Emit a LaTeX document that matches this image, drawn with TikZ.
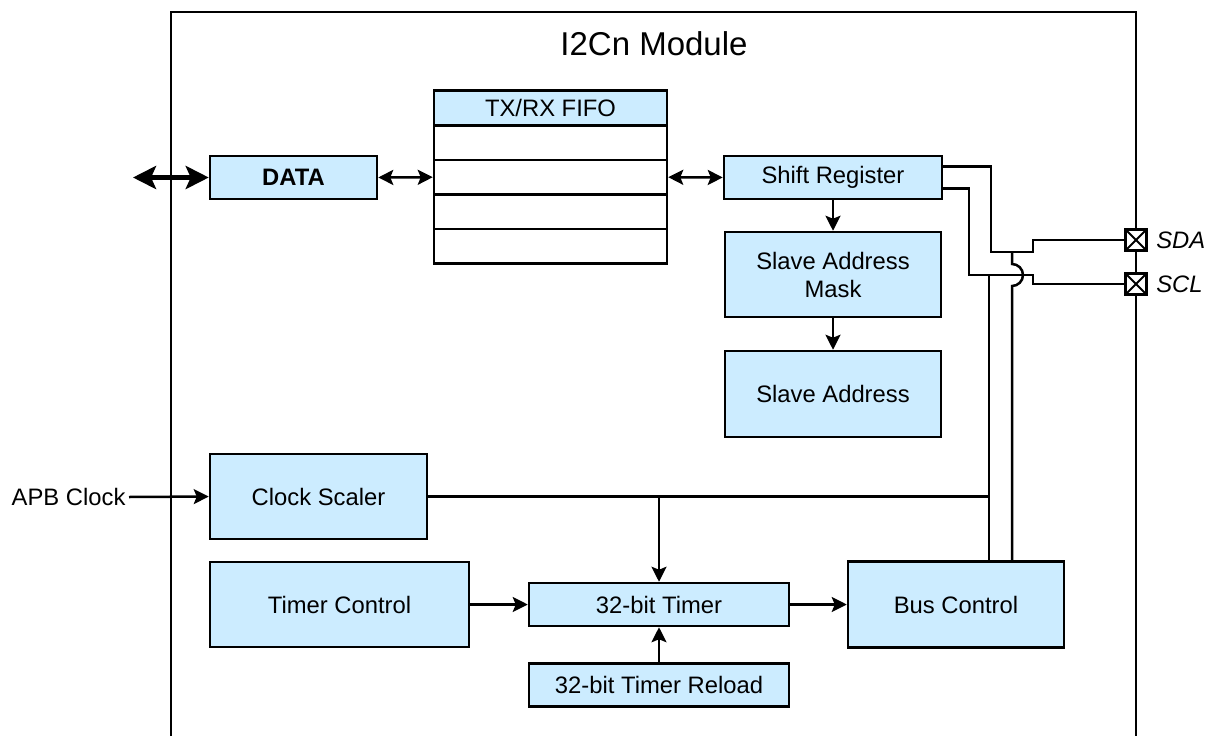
\documentclass[tikz,border=0pt]{standalone}
\usepackage{fontspec}
\setmainfont{Liberation Sans}
\usepackage{xcolor}
\usetikzlibrary{arrows.meta}
\definecolor{blockblue}{RGB}{204,236,255}
\newcommand{\blkfont}{\fontsize{23.8}{28}\selectfont}
\tikzset{
  blk/.style={draw,line width=2.5pt,fill=blockblue,inner sep=0pt,align=center,font=\blkfont},
  wire/.style={line width=2.5pt},
  arr/.style={wire,-{Stealth[length=15pt,width=15pt,inset=3pt]}},
  darr/.style={wire,{Stealth[length=15pt,width=15pt,inset=3pt]}-{Stealth[length=15pt,width=15pt,inset=3pt]}},
  busarr/.style={line width=4.5pt,{Stealth[length=23pt,width=23pt,inset=5pt]}-{Stealth[length=23pt,width=23pt,inset=5pt]}},
  pin/.style={draw,line width=2.5pt,fill=white,minimum size=21pt,inner sep=0pt,
    path picture={\draw[line width=2pt]
      (path picture bounding box.north west) -- (path picture bounding box.south east)
      (path picture bounding box.north east) -- (path picture bounding box.south west);}},
  pinlbl/.style={font=\blkfont\itshape,xshift=5pt}
}
\newcommand{\ublock}[6]{\node[blk,minimum width=#4pt,minimum height=#5pt] (#1) at (#2,#3) {#6};}

\begin{document}
\begin{tikzpicture}[x=1pt,y=-1pt]
  \useasboundingbox (0,0) rectangle (1207,736);
  \draw[line width=2.5pt] (171,736) -- (171,12) -- (1136,12) -- (1136,736);
  \node[font=\fontsize{33}{38}\selectfont] (title) at (654,44) {I2Cn Module};

  \ublock{data}{293.5}{177.5}{167}{43}{\textbf{DATA}}
  \ublock{fifo}{550.5}{108}{233}{34.6}{TX/RX FIFO}
  \foreach \r in {1,...,4}{%
    \node[blk,fill=white,minimum width=233pt,minimum height=34.6pt] (fifo\r) at (550.5,{108+34.6*\r}) {};}
  \ublock{shift}{833}{177.5}{218}{43}{Shift Register}
  \ublock{mask}{833}{274.5}{216}{85}{Slave Address\\Mask}
  \ublock{slave}{833}{394}{216}{86}{Slave Address}
  \ublock{clock}{318.5}{496.5}{217}{85}{Clock Scaler}
  \ublock{timerctl}{339.5}{604.5}{259}{85}{Timer Control}
  \ublock{timer}{659}{604.5}{260}{43}{32-bit Timer}
  \ublock{reload}{659}{685}{260}{43}{32-bit Timer Reload}
  \ublock{busctl}{956}{604.5}{216}{86}{Bus Control}

  \node[pin,label={[pinlbl]east:SDA}] (sda) at (1136,240) {};
  \node[pin,label={[pinlbl]east:SCL}] (scl) at (1136,284) {};
  \node[font=\blkfont,anchor=east] (apb) at (129,497) {APB Clock};
  \coordinate (databus) at (133,177.5);
  \coordinate (sdajoin) at (1012,252);
  \coordinate (scljoin) at (989,275);

  \draw[busarr] (databus) -- (data.west);
  \draw[darr] (data.east) -- (fifo2.west);
  \draw[darr] (fifo2.east) -- (shift.west);
  \draw[arr] (shift.south) -- (mask.north);
  \draw[arr] (mask.south) -- (slave.north);
  \draw[arr] (apb.east) -- (clock.west);
  \draw[wire] (clock.east) -- (clock.east -| scljoin);
  \draw[arr] (clock.east -| timer.north) -- (timer.north);
  \draw[arr] (timerctl.east) -- (timer.west);
  \draw[arr] (timer.east) -- (busctl.west);
  \draw[arr] (reload.north) -- (timer.south);

  \draw[wire] ([yshift=11pt]shift.east) -| (991,252) -- (1033,252) |- (sda.west);
  \draw[wire] ([yshift=-11pt]shift.east) -| (969,275) -- (1033,275) |- (scl.west);
  \draw[wire] ([xshift=33pt]busctl.north) -- (scljoin);
  \draw[wire] ([xshift=56pt]busctl.north) -- (1012,286)
    arc[start angle=-90,end angle=90,radius=11pt] -- (sdajoin);
\end{tikzpicture}
\end{document}
